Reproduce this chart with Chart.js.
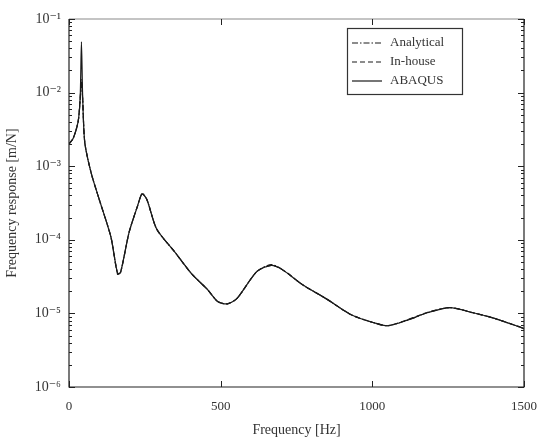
<!DOCTYPE html>
<html>
<head>
<meta charset="utf-8">
<script src="https://cdn.jsdelivr.net/npm/chart.js@4.4.1/dist/chart.umd.min.js"></script>
<style>
  html, body { margin: 0; padding: 0; background: #fff; }
  #wrap { width: 549px; height: 443px; }
</style>
</head>
<body>
<div id="wrap"><canvas id="grafico"></canvas></div>
<script>
// frequencies [Hz]
const frequencias = [0, 14, 30, 37, 41, 45, 52, 73, 100, 138, 160, 170, 198, 225, 241, 257, 289, 349, 403, 457,
    490, 522, 554, 619, 667, 705, 770, 846, 932, 1008, 1051, 1116, 1181, 1256, 1332, 1397, 1483, 1500];

// response [m/N]
const analitico = [2.0e-3, 2.4e-3, 4.0e-3, 8.0e-3, 1.5e-2, 8.0e-3, 2.1e-3, 8.1e-4, 3.5e-4, 1.1e-4, 3.4e-5, 3.6e-5, 1.26e-4, 2.8e-4, 4.3e-4, 3.5e-4, 1.4e-4, 6.8e-5, 3.5e-5, 2.1e-5,
    1.45e-5, 1.35e-5, 1.6e-5, 3.7e-5, 4.6e-5, 3.9e-5, 2.45e-5, 1.6e-5, 9.5e-6, 7.4e-6, 6.8e-6, 8.1e-6, 1.02e-5, 1.2e-5, 1.02e-5, 8.7e-6, 6.6e-6, 6.2e-6];
const inHouse = [2.0e-3, 2.4e-3, 4.0e-3, 8.5e-3, 1.4e-2, 8.5e-3, 2.1e-3, 8.1e-4, 3.5e-4, 1.1e-4, 3.5e-5, 3.6e-5, 1.26e-4, 2.8e-4, 4.2e-4, 3.5e-4, 1.4e-4, 6.8e-5, 3.5e-5, 2.1e-5,
    1.45e-5, 1.35e-5, 1.6e-5, 3.7e-5, 4.5e-5, 3.9e-5, 2.45e-5, 1.6e-5, 9.5e-6, 7.4e-6, 6.8e-6, 8.2e-6, 1.03e-5, 1.2e-5, 1.02e-5, 8.7e-6, 6.6e-6, 6.2e-6];
const abaqus = [2.0e-3, 2.4e-3, 4.0e-3, 8.9e-3, 4.9e-2, 8.9e-3, 2.1e-3, 8.1e-4, 3.5e-4, 1.1e-4, 3.5e-5, 3.6e-5, 1.26e-4, 2.8e-4, 4.2e-4, 3.5e-4, 1.4e-4, 6.8e-5, 3.5e-5, 2.1e-5,
    1.45e-5, 1.35e-5, 1.6e-5, 3.7e-5, 4.5e-5, 3.9e-5, 2.45e-5, 1.6e-5, 9.5e-6, 7.4e-6, 6.8e-6, 8.1e-6, 1.02e-5, 1.2e-5, 1.02e-5, 8.7e-6, 6.6e-6, 6.2e-6];

const xTicks = [0, 500, 1000, 1500];
const decadas = [1e-6, 1e-5, 1e-4, 1e-3, 1e-2, 1e-1];
const rotulos = ['Analytical', 'In-house', 'ABAQUS'];

const supers = { '-': '\u207B', '1': '\u00B9', '2': '\u00B2', '3': '\u00B3', '4': '\u2074', '5': '\u2075', '6': '\u2076' };
function potencia(v) {
    const e = Math.round(Math.log10(v));
    return '10' + String(e).split('').map(c => supers[c]).join('');
}

function serie(valores) {
    return frequencias.map((f, i) => ({ x: f, y: valores[i] }));
}

const fonte = "'Liberation Serif', 'DejaVu Serif', serif";
const cor = '#1a1a1a';

// frame, inward ticks and legend box
const molduraPlugin = {
    id: 'moldura',
    afterDraw(chart) {
        const ctx = chart.ctx;
        const a = chart.chartArea;
        const xs = chart.scales.x;
        const ys = chart.scales.y;
        ctx.save();
        ctx.lineWidth = 1.2;
        ctx.strokeStyle = '#222';
        ctx.beginPath();
        ctx.moveTo(a.left, a.top);
        ctx.lineTo(a.left, a.bottom);
        ctx.lineTo(a.right, a.bottom);
        ctx.lineTo(a.right, a.top);
        ctx.stroke();
        ctx.strokeStyle = '#8a8a8a';
        ctx.beginPath();
        ctx.moveTo(a.left, a.top);
        ctx.lineTo(a.right, a.top);
        ctx.stroke();

        // y ticks: decades long, 2..9 short
        ctx.strokeStyle = '#222';
        ctx.lineWidth = 1;
        ctx.beginPath();
        decadas.forEach((d, i) => {
            const mults = i < decadas.length - 1 ? [1, 2, 3, 4, 5, 6, 7, 8, 9] : [1];
            mults.forEach(m => {
                const py = Math.round(ys.getPixelForValue(d * m)) + 0.5;
                const len = m === 1 ? 6 : 3;
                ctx.moveTo(a.left, py); ctx.lineTo(a.left + len, py);
                ctx.moveTo(a.right, py); ctx.lineTo(a.right - len, py);
            });
        });
        xTicks.forEach(v => {
            const px = Math.round(xs.getPixelForValue(v)) + 0.5;
            ctx.moveTo(px, a.bottom); ctx.lineTo(px, a.bottom - 6);
            ctx.moveTo(px, a.top); ctx.lineTo(px, a.top + 6);
        });
        ctx.stroke();

        // legend
        const bx = 347, by = 28, bw = 115, bh = 66;
        ctx.fillStyle = '#fff';
        ctx.fillRect(bx, by, bw, bh);
        ctx.lineWidth = 1.2;
        ctx.strokeStyle = '#333';
        ctx.strokeRect(bx + 0.5, by + 0.5, bw, bh);
        ctx.font = '13px ' + fonte;
        ctx.textBaseline = 'middle';
        ctx.fillStyle = '#333';
        chart.data.datasets.forEach((ds, i) => {
            const ly = by + 15 + i * 19;
            ctx.setLineDash(ds.borderDash || []);
            ctx.lineWidth = 1.2;
            ctx.strokeStyle = cor;
            ctx.beginPath();
            ctx.moveTo(bx + 5, ly); ctx.lineTo(bx + 35, ly);
            ctx.stroke();
            ctx.setLineDash([]);
            ctx.fillText(ds.label, bx + 43, ly);
        });
        ctx.restore();
    }
};

const ctxLinha = document.getElementById('grafico').getContext('2d');
const grafico = new Chart(ctxLinha, {
    type: 'line',
    data: {
        datasets: [
            { label: rotulos[0], data: serie(analitico), borderDash: [6, 2, 1.5, 2] },
            { label: rotulos[1], data: serie(inHouse), borderDash: [5, 3] },
            { label: rotulos[2], data: serie(abaqus), borderDash: [] }
        ].map(ds => Object.assign(ds, {
            borderColor: cor,
            borderWidth: 1.2,
            pointRadius: 0,
            fill: false,
            tension: 0.25
        }))
    },
    options: {
        responsive: true,
        maintainAspectRatio: false,
        animation: false,
        layout: { padding: { top: 19, right: 17, left: 0, bottom: 0 } },
        plugins: {
            legend: { display: false },
            tooltip: { enabled: false }
        },
        scales: {
            x: {
                type: 'linear',
                min: 0,
                max: 1500,
                afterFit: s => { s.height = 56; },
                afterBuildTicks: s => { s.ticks = xTicks.map(v => ({ value: v })); },
                grid: { display: false, drawTicks: false },
                border: { display: false },
                ticks: {
                    color: '#333',
                    padding: 12,
                    maxRotation: 0,
                    font: { family: fonte, size: 13 },
                    callback: v => String(v)
                },
                title: {
                    display: true,
                    text: 'Frequency [Hz]',
                    color: '#333',
                    padding: { top: 6 },
                    font: { family: fonte, size: 14 }
                }
            },
            y: {
                type: 'logarithmic',
                min: decadas[0],
                max: decadas[decadas.length - 1],
                afterFit: s => { s.width = 69; },
                afterBuildTicks: s => { s.ticks = decadas.map(v => ({ value: v })); },
                grid: { display: false, drawTicks: false },
                border: { display: false },
                ticks: {
                    color: '#333',
                    padding: 8,
                    autoSkip: false,
                    font: { family: fonte, size: 14 },
                    callback: v => potencia(v)
                },
                title: {
                    display: true,
                    text: 'Frequency response [m/N]',
                    color: '#333',
                    padding: { bottom: 2 },
                    font: { family: fonte, size: 14 }
                }
            }
        }
    },
    plugins: [molduraPlugin]
});
</script>
</body>
</html>
